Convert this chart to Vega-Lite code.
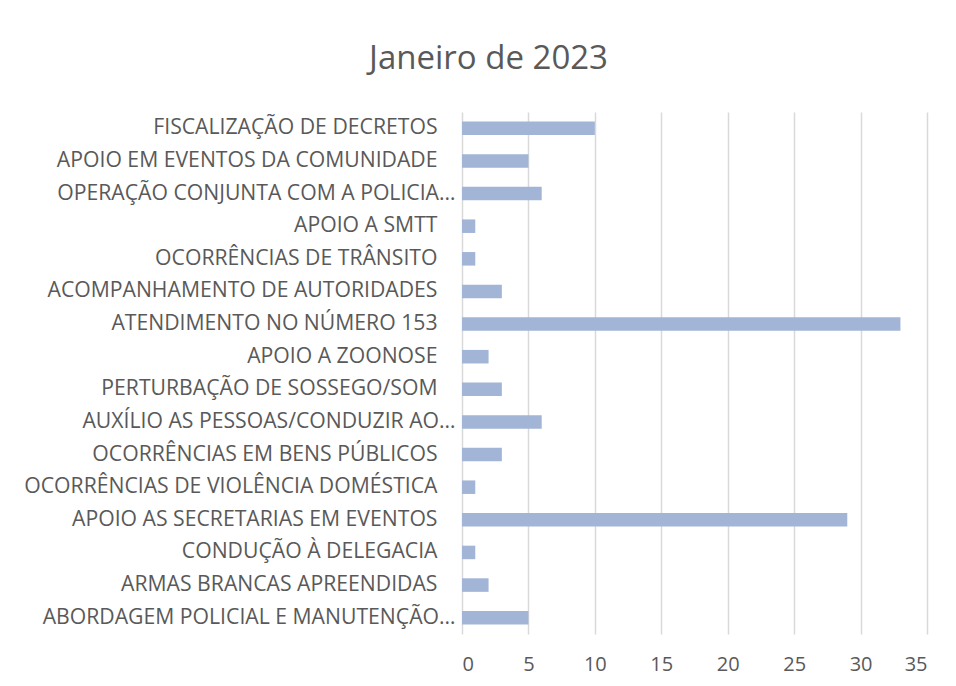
{
  "$schema": "https://vega.github.io/schema/vega-lite/v6.json",
  "autosize": "none",
  "width": 465,
  "height": 522,
  "padding": {"left": 462, "top": 112, "right": 29, "bottom": 52},
  "background": "white",
  "title": {
    "text": "Janeiro de 2023",
    "anchor": "middle",
    "dx": -206,
    "offset": 36,
    "font": "Open Sans",
    "fontSize": 33,
    "fontWeight": "normal",
    "color": "#595959"
  },
  "data": {
    "values": [
      {"categoria": "FISCALIZAÇÃO DE DECRETOS", "total": 10},
      {"categoria": "APOIO EM EVENTOS DA COMUNIDADE", "total": 5},
      {"categoria": "OPERAÇÃO CONJUNTA COM A POLICIA…", "total": 6},
      {"categoria": "APOIO A SMTT", "total": 1},
      {"categoria": "OCORRÊNCIAS DE TRÂNSITO", "total": 1},
      {"categoria": "ACOMPANHAMENTO DE AUTORIDADES", "total": 3},
      {"categoria": "ATENDIMENTO NO NÚMERO 153", "total": 33},
      {"categoria": "APOIO A ZOONOSE", "total": 2},
      {"categoria": "PERTURBAÇÃO DE SOSSEGO/SOM", "total": 3},
      {"categoria": "AUXÍLIO AS PESSOAS/CONDUZIR AO…", "total": 6},
      {"categoria": "OCORRÊNCIAS EM BENS PÚBLICOS", "total": 3},
      {"categoria": "OCORRÊNCIAS DE VIOLÊNCIA DOMÉSTICA", "total": 1},
      {"categoria": "APOIO AS SECRETARIAS EM EVENTOS", "total": 29},
      {"categoria": "CONDUÇÃO À DELEGACIA", "total": 1},
      {"categoria": "ARMAS BRANCAS APREENDIDAS", "total": 2},
      {"categoria": "ABORDAGEM POLICIAL E MANUTENÇÃO…", "total": 5}
    ]
  },
  "mark": {"type": "bar", "color": "#a2b5d7"},
  "encoding": {
    "y": {
      "field": "categoria",
      "type": "nominal",
      "sort": null,
      "scale": {"paddingInner": 0.585, "paddingOuter": 0.2925},
      "axis": {
        "title": null,
        "domain": false,
        "ticks": false,
        "tickSize": 0,
        "labelPadding": {"condition": {"test": "indexof(datum.value, '…') >= 0", "value": 7}, "value": 25},
        "labelFont": "Open Sans",
        "labelFontSize": 21.2,
        "labelColor": "#595959",
        "labelLimit": 0
      }
    },
    "x": {
      "field": "total",
      "type": "quantitative",
      "scale": {"domain": [0, 35], "nice": false},
      "axis": {
        "title": null,
        "values": [0, 5, 10, 15, 20, 25, 30, 35],
        "domain": false,
        "ticks": false,
        "tickSize": 0,
        "labelPadding": 20,
        "labelFont": "Open Sans",
        "labelFontSize": 20,
        "labelColor": "#595959",
        "grid": true,
        "gridColor": "#d9d9d9",
        "gridWidth": 1.5
      }
    }
  },
  "config": {
    "view": {"stroke": null}
  }
}
